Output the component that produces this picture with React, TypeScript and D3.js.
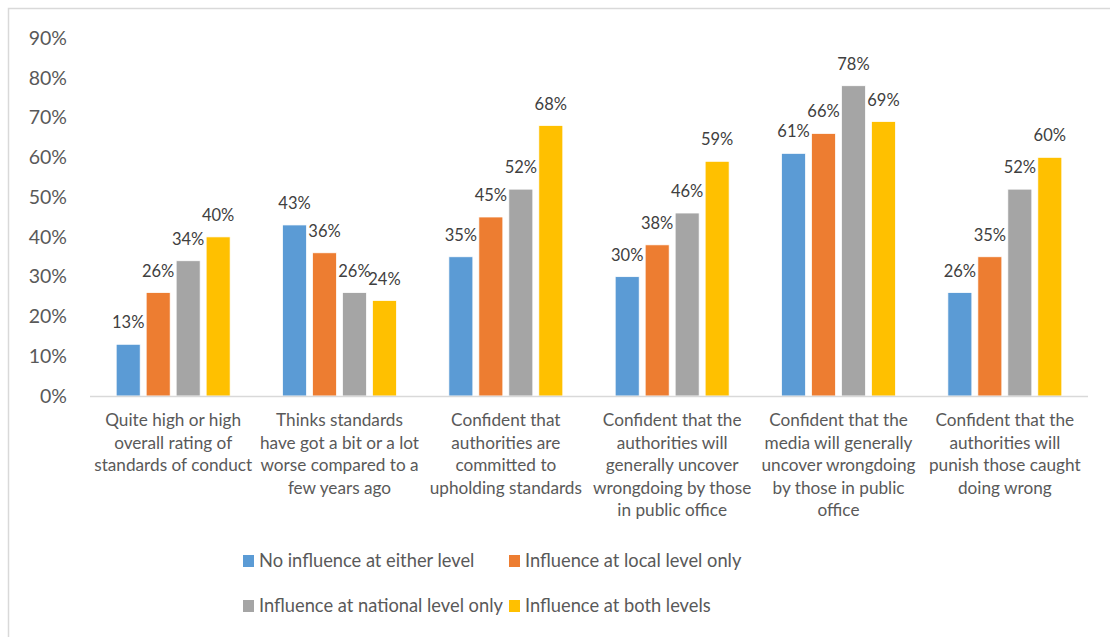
import React, { useEffect, useRef } from 'react';
import * as d3 from 'd3';

// categories, one line per array entry as wrapped in the original
const categories: string[][] = [
  ['Quite high or high', 'overall rating of', 'standards of conduct'],
  ['Thinks standards', 'have got a bit or a lot', 'worse compared to a', 'few years ago'],
  ['Confident that', 'authorities are', 'committed to', 'upholding standards'],
  ['Confident that the', 'authorities will', 'generally uncover', 'wrongdoing by those', 'in public office'],
  ['Confident that the', 'media will generally', 'uncover wrongdoing', 'by those in public', 'office'],
  ['Confident that the', 'authorities will', 'punish those caught', 'doing wrong'],
];

const seriesNames = [
  'No influence at either level',
  'Influence at local level only',
  'Influence at national level only',
  'Influence at both levels',
];
const seriesColors = ['#5B9BD5', '#ED7D31', '#A5A5A5', '#FFC000'];

const noInfluence = [13, 43, 35, 30, 61, 26];
const localOnly = [26, 36, 45, 38, 66, 35];
const nationalOnly = [34, 26, 52, 46, 78, 52];
const bothLevels = [40, 24, 68, 59, 69, 60];

const yTicks = [0, 10, 20, 30, 40, 50, 60, 70, 80, 90];

const W = 1110;
const H = 637;
const FONT = 'Lato, "Open Sans", sans-serif';

const App: React.FC = () => {
  const svgRef = useRef<SVGSVGElement>(null);

  useEffect(() => {
    if (!svgRef.current) return;
    const svg = d3.select(svgRef.current);
    svg.selectAll('*').remove();

    const margin = { left: 90, right: 22, top: 38, bottom: 241 };
    const plotW = W - margin.left - margin.right;
    const plotH = H - margin.top - margin.bottom;

    // outer chart border (extends past the bottom/right of the picture)
    svg.append('rect')
      .attr('x', 8.5).attr('y', 8.5)
      .attr('width', W + 10).attr('height', H + 10)
      .attr('fill', '#fff')
      .attr('stroke', '#D9D9D9')
      .attr('stroke-width', 1.5);

    const g = svg.append('g').attr('transform', `translate(${margin.left},${margin.top})`);

    const catIdx = categories.map((_, i) => String(i));
    const x0 = d3.scaleBand().domain(catIdx).range([0, plotW]);
    const groupW = x0.bandwidth() * 0.685;
    const x1 = d3.scaleBand().domain(seriesNames).range([0, groupW]).paddingInner(0.2);
    const y = d3.scaleLinear().domain([0, 90]).range([plotH, 0]);

    // y tick labels
    g.append('g')
      .selectAll('text')
      .data(yTicks)
      .enter()
      .append('text')
      .attr('x', -23)
      .attr('y', (d) => y(d))
      .attr('dy', '0.35em')
      .attr('text-anchor', 'end')
      .style('font-family', FONT)
      .style('font-size', '19.5px')
      .style('fill', '#595959')
      .text((d) => `${d}%`);

    const series = [noInfluence, localOnly, nationalOnly, bothLevels];

    series.forEach((vals, si) => {
      const name = seriesNames[si];
      const grp = g.append('g');
      grp.selectAll('rect')
        .data(vals)
        .enter()
        .append('rect')
        .attr('x', (_, i) => (x0(String(i)) || 0) + (x0.bandwidth() - groupW) / 2 + (x1(name) || 0))
        .attr('y', (d) => y(d))
        .attr('width', x1.bandwidth())
        .attr('height', (d) => plotH - y(d))
        .attr('fill', seriesColors[si])
        .attr('stroke', '#fff')
        .attr('stroke-width', 0.75);

      grp.selectAll('text')
        .data(vals)
        .enter()
        .append('text')
        .attr('x', (_, i) => (x0(String(i)) || 0) + (x0.bandwidth() - groupW) / 2 + (x1(name) || 0) + x1.bandwidth() / 2)
        .attr('y', (d) => y(d) - 16)
        .attr('text-anchor', 'middle')
        .style('font-family', FONT)
        .style('font-size', '16.5px')
        .style('fill', '#404040')
        .text((d) => `${d}%`);
    });

    // x axis line
    g.append('line')
      .attr('x1', 0).attr('x2', plotW)
      .attr('y1', plotH + 0.5).attr('y2', plotH + 0.5)
      .attr('stroke', '#D9D9D9')
      .attr('stroke-width', 1.5);

    // category labels
    const catG = g.append('g');
    categories.forEach((lines, i) => {
      const cx = (x0(String(i)) || 0) + x0.bandwidth() / 2;
      const t = catG.append('text')
        .attr('text-anchor', 'middle')
        .style('font-family', FONT)
        .style('font-size', '17.2px')
        .style('fill', '#595959');
      lines.forEach((ln, li) => {
        t.append('tspan')
          .attr('x', cx)
          .attr('y', plotH + 30 + li * 22.6)
          .text(ln);
      });
    });

    // legend: 2 x 2
    const legX = [243, 509];
    const legY = [561, 606];
    seriesNames.forEach((name, si) => {
      const lx = legX[si % 2];
      const ly = legY[Math.floor(si / 2)];
      svg.append('rect')
        .attr('x', lx).attr('y', ly - 6)
        .attr('width', 11).attr('height', 12)
        .attr('fill', seriesColors[si]);
      svg.append('text')
        .attr('x', lx + 16)
        .attr('y', ly)
        .attr('dy', '0.35em')
        .style('font-family', FONT)
        .style('font-size', '18.3px')
        .style('fill', '#595959')
        .text(name);
    });
  }, []);

  return (
    <div style={{ position: 'fixed', left: 0, top: 0, width: W, height: H, background: '#fff' }}>
      <svg ref={svgRef} width={W} height={H} style={{ display: 'block' }} />
    </div>
  );
};

export default App;
